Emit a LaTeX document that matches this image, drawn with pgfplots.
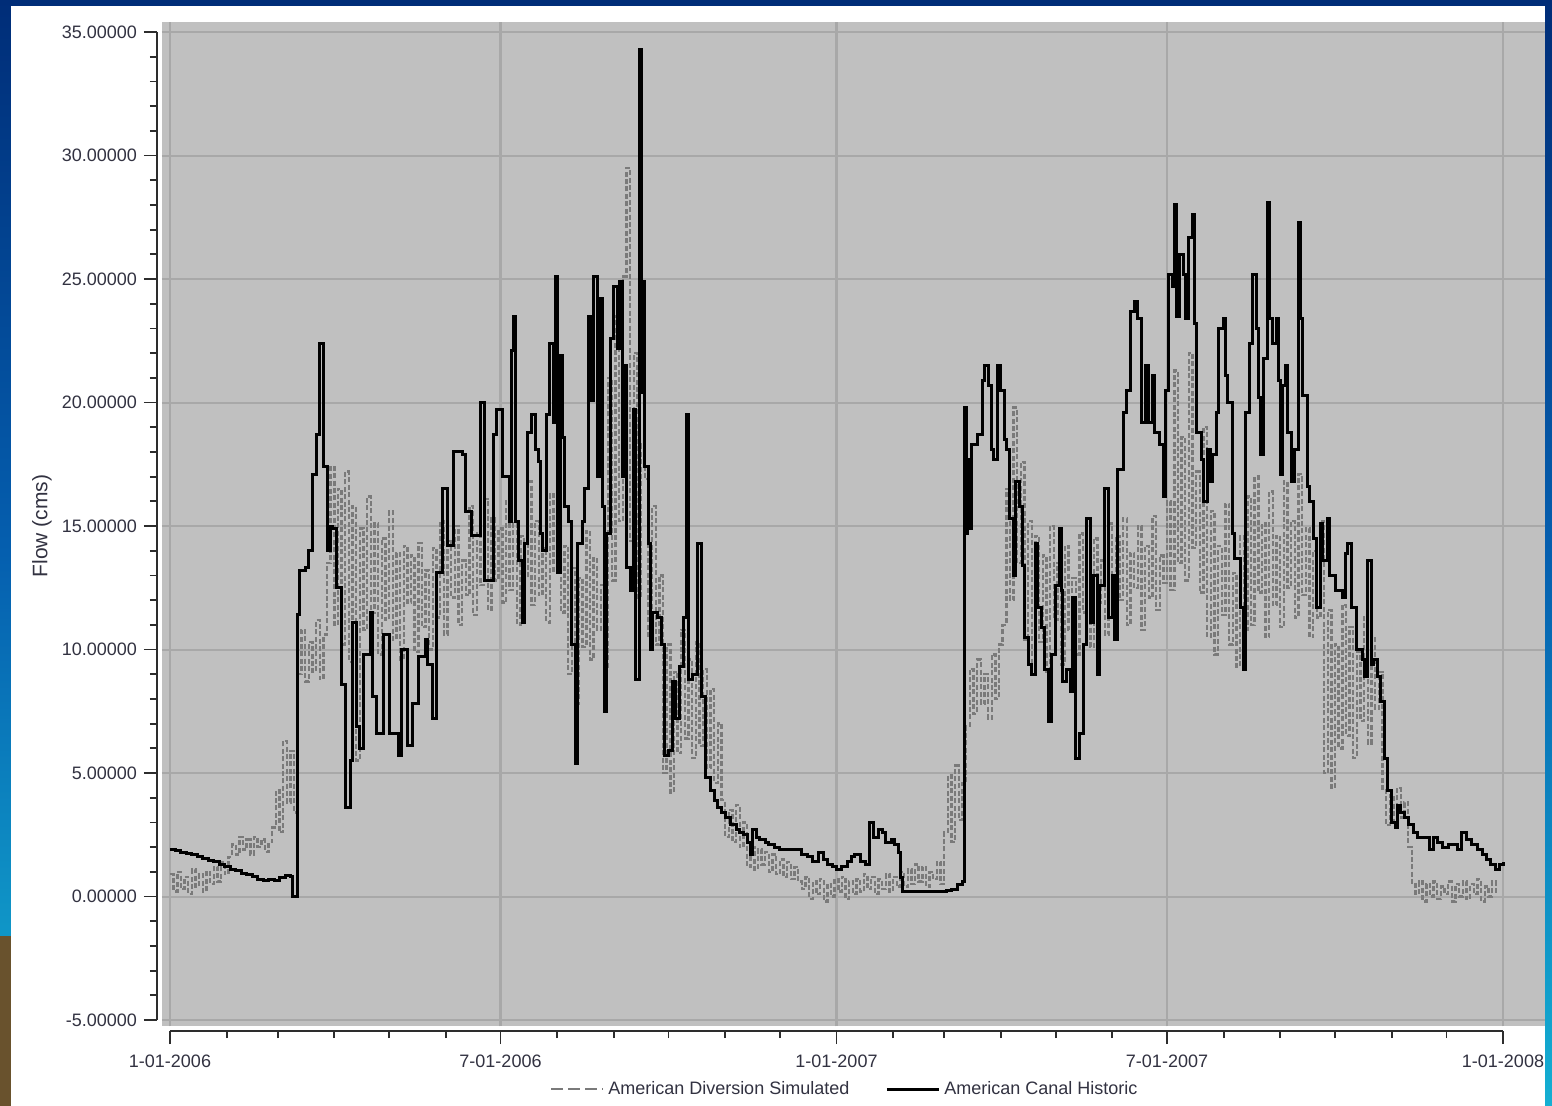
\documentclass[border=0pt]{standalone}
\usepackage{pgfplots}
\pgfplotsset{compat=1.18}
\usepackage{fontspec}
\setmainfont{Liberation Sans}
\definecolor{plotbg}{RGB}{192,192,192}
\definecolor{gridc}{RGB}{168,168,168}
\definecolor{simgray}{RGB}{122,122,122}
\definecolor{txt}{RGB}{50,50,65}
\definecolor{axc}{RGB}{45,45,45}
\definecolor{navy}{RGB}{0,45,120}
\definecolor{midb}{RGB}{5,95,175}
\definecolor{cyanb}{RGB}{20,175,210}
\definecolor{brownb}{RGB}{105,82,45}
\begin{document}
\begin{tikzpicture}
\useasboundingbox (0pt,0pt) rectangle (776pt,-553pt);
\shade[top color=navy, bottom color=cyanb, middle color=midb] (0pt,0pt) rectangle (776pt,-553pt);
\fill[brownb] (0pt,-468pt) rectangle (6pt,-553pt);
\fill[white] (5.5pt,-3pt) rectangle (772.5pt,-553pt);
\begin{axis}[
  scale only axis, width=666.5pt, height=494pt,
  at={(85pt,-510pt)}, anchor=south west,
  xmin=0, xmax=730, ymin=-5, ymax=35,
  clip=false,
  axis x line*=bottom, axis y line*=left,
  axis x line shift=5.5pt, axis y line shift=6.5pt,
  axis line style={axc, line width=1pt},
  tick align=outside,
  major tick length=6.5pt, minor tick length=3.5pt,
  every tick/.style={axc, line width=0.9pt},
  xtick={0,181,365,546,730},
  xticklabels={1-01-2006,7-01-2006,1-01-2007,7-01-2007,1-01-2008},
  minor xtick={31,59,90,120,151,212,243,273,304,334,396,424,455,485,516,577,608,638,669,699},
  ytick={-5,0,5,10,15,20,25,30,35},
  yticklabels={-5.00000,0.00000,5.00000,10.00000,15.00000,20.00000,25.00000,30.00000,35.00000},
  minor ytick={-4,-3,-2,-1,1,2,3,4,6,7,8,9,11,12,13,14,16,17,18,19,21,22,23,24,26,27,28,29,31,32,33,34},
  ticklabel style={font=\fontsize{9}{10}\selectfont, text=txt},
  xticklabel shift=2pt,
  ylabel={Flow (cms)},
  every axis y label/.style={at={(rel axis cs:-0.096,0.5)}, rotate=90, anchor=center, font=\fontsize{10.5}{12}\selectfont, text=txt},
  legend columns=2,
  legend style={at={(rel axis cs:0.507,-0.07)}, anchor=center, draw=none, fill=none,
    font=\fontsize{9}{10}\selectfont, text=txt,
    /tikz/every even column/.append style={column sep=16pt}},
  legend image code/.code={\draw[#1] (0pt,0pt) -- (26pt,0pt);},
]
\fill[plotbg] (axis cs:-4.4,-5.26) rectangle (axis cs:753,35.4);
\pgfplotsinvokeforeach{-5,0,5,10,15,20,25,30,35}{\draw[gridc, line width=1pt] (axis cs:-4.4,#1) -- (axis cs:753,#1);}
\pgfplotsinvokeforeach{0,181,365,546,730}{\draw[gridc, line width=1.2pt] (axis cs:#1,-5.26) -- (axis cs:#1,35.4);}

\addplot[const plot, simgray, line width=1.2pt, dash pattern=on 2.5pt off 1.2pt,
  legend image code/.code={\draw[simgray, line width=1pt, dash pattern=on 6pt off 2.5pt] (0pt,0pt) -- (26pt,0pt);}] coordinates {
(0,0.9)(2,0.2)(4,1.0)(6,0.3)(8,0.8)(10,0.1)(12,1.1)(14,0.4)(16,0.9)(18,0.2)(20,1.0)(22,0.5)(24,1.2)(26,0.6)
(28,1.4)(30,0.9)(32,1.6)
(34,2.1)(36,1.7)(38,2.4)(40,1.9)(42,2.3)(44,1.7)(46,2.4)(48,2.0)(50,2.3)(52,1.8)(54,2.2)
(56,2.8)(58,4.3)(60,2.6)
(62,6.3)(64,3.8)(66,5.9)(68,3.4)
(70,9.0)(72,10.8)(74,8.7)(76,10.3)(78,9.1)(80,11.2)(82,8.8)(84,10.6)
(86,13.5)(88,17.4)(90,11.0)(92,16.5)(94,10.2)(96,17.2)
(98,9.5)(100,15.8)(102,5.5)(104,14.9)(106,10.8)(108,16.2)(110,11.5)(112,15.1)(114,9.8)(116,14.5)(118,11.2)(120,15.6)(122,10.4)(124,13.9)(126,9.6)(128,14.2)(130,11.9)(132,13.8)(134,9.9)(136,14.3)(138,10.9)(140,13.2)(142,10.0)(144,14.1)
(146,11.3)(148,15.2)(150,10.6)(152,14.4)(154,12.1)(156,15.0)(158,11.0)(160,13.6)(162,12.2)(164,15.8)(166,11.4)(168,14.7)(170,12.6)(172,16.1)(174,11.6)(176,15.3)(178,12.8)(180,14.9)
(182,11.9)(184,16.0)(186,12.4)(188,15.1)(190,11.0)(192,14.6)(194,12.9)(196,16.8)(198,11.8)(200,15.2)(202,12.2)(204,14.1)(206,11.1)(208,16.3)(210,13.2)(212,14.8)(214,11.5)
(216,14.2)(218,9.0)(220,13.3)(222,7.8)(224,12.9)(226,10.1)(228,14.8)(230,9.6)(232,13.7)(234,10.8)(236,12.6)
(238,9.3)(240,21.0)(242,12.8)(244,23.5)(246,15.2)(248,25.1)(250,29.5)(252,14.4)(254,22.0)(256,12.1)(258,18.3)
(260,16.9)(262,10.5)(264,15.8)(266,10.2)(268,13.0)
(270,5.0)(272,10.2)(274,4.2)(276,9.1)(278,5.8)(280,10.8)(282,6.4)(284,9.6)
(286,5.6)(288,10.3)(290,6.1)(292,9.2)(294,5.2)(296,8.4)(298,4.6)(300,7.0)
(302,3.9)(304,2.4)(306,3.5)(308,2.2)(310,3.7)(312,2.0)(314,3.0)
(316,1.2)(318,2.0)(320,1.1)(322,1.9)(324,1.3)(326,1.8)(328,1.0)(330,1.7)(332,0.9)(334,1.5)(336,0.8)(338,1.4)(340,0.7)(342,1.2)(344,0.6)
(346,0.3)(348,0.8)(350,-0.1)(352,0.6)(354,0.1)(356,0.7)(358,-0.2)(360,0.5)(362,0.0)(364,0.7)(366,0.2)(368,0.8)(370,-0.1)(372,0.6)(374,0.1)(376,0.7)(378,0.2)(380,0.9)(382,0.3)(384,0.8)(386,0.1)(388,0.7)(390,0.3)(392,0.9)(394,0.2)(396,0.8)(398,0.4)(400,1.0)
(402,0.4)(404,1.1)(406,0.5)(408,1.3)(410,0.6)(412,1.2)(414,0.4)(416,1.0)(418,0.7)(420,1.4)(422,0.5)
(424,2.6)(426,4.9)(428,2.2)(430,5.3)(432,3.1)(434,4.6)
(436,6.9)(438,9.2)(440,7.4)(442,9.6)(444,7.8)(446,9.0)(448,7.2)(450,9.8)(452,8.0)(454,10.2)
(456,11.0)(458,16.5)(460,12.0)(462,19.8)(464,13.5)(466,17.6)(468,10.4)(470,15.2)
(472,9.0)(474,14.6)(476,10.3)(478,13.8)(480,9.1)(482,15.0)(484,11.2)(486,13.5)(488,9.4)(490,14.2)(492,10.8)(494,12.9)(496,9.8)(498,14.7)(500,11.5)(502,13.3)(504,10.1)(506,14.5)(508,11.9)(510,13.6)(512,10.6)(514,15.1)
(516,11.3)(518,14.6)(520,12.0)(522,15.3)(524,11.0)(526,13.9)(528,12.5)(530,15.0)(532,10.8)(534,14.2)(536,12.1)(538,15.4)(540,11.6)(542,13.8)(544,12.7)
(546,16.0)(548,12.4)(550,21.3)(552,13.5)(554,18.6)(556,12.8)(558,22.0)(560,14.1)(562,17.2)(564,12.3)(566,19.0)
(568,10.5)(570,15.6)(572,9.8)(574,14.2)(576,11.4)(578,15.9)(580,10.2)(582,13.1)(584,9.3)(586,14.6)(588,10.8)
(590,16.2)(592,11.0)(594,17.0)(596,12.3)(598,15.1)(600,10.5)(602,16.4)(604,11.8)(606,14.6)(608,10.9)(610,16.8)(612,12.5)(614,15.2)(616,11.3)(618,17.1)
(620,12.2)(622,14.9)(624,10.5)(626,14.0)(628,11.3)(630,15.2)
(632,5.0)(634,11.6)(636,4.4)(638,10.2)(640,6.0)(642,11.8)
(644,6.5)(646,10.9)(648,5.6)(650,9.9)(652,7.1)(654,11.4)(656,6.2)(658,10.5)(660,7.6)(662,9.1)
(664,4.3)(666,2.9)(668,4.1)(670,3.0)(672,4.4)(674,3.2)(676,3.8)
(678,2.0)(680,0.5)
(682,0.1)(684,0.6)(686,-0.2)(688,0.5)(690,0.0)(692,0.6)(694,-0.1)(696,0.4)(698,0.1)(700,0.6)(702,-0.2)(704,0.5)(706,0.0)(708,0.6)(710,-0.1)(712,0.5)(714,0.1)(716,0.7)(718,-0.2)(720,0.4)(722,0.0)(724,0.6)(726,0.1)
};
\addlegendentry{American Diversion Simulated}

\addplot[const plot, black, line width=1.5pt] coordinates {
(0,1.9)(3,1.85)(6,1.8)(9,1.75)(12,1.7)(15,1.6)(18,1.55)(21,1.45)(24,1.4)(27,1.3)(30,1.2)(33,1.1)(36,1.05)(39,0.95)(42,0.9)(45,0.8)(48,0.7)(51,0.65)(54,0.7)(57,0.65)(60,0.75)(63,0.85)(66,0.8)(67,0.0)(69,0.0)
(70,11.4)(71,13.2)(74,13.3)(76,14.0)(78,17.1)(80,18.7)(82,22.4)(84,17.4)(86,14.0)(88,15.0)(89,14.9)(91,12.5)(94,8.6)(96,3.6)(99,5.5)(100,11.1)(102,6.9)(104,6.0)(106,9.8)(110,11.5)(111,8.1)(113,6.6)(117,10.6)(120,6.6)(125,5.7)(127,10.0)(130,6.1)(133,7.8)(136,9.7)(140,10.4)(141,9.4)(144,7.2)(146,13.1)(149,16.5)(152,14.2)(155,18.0)(160,17.9)(162,15.6)(165,14.6)(170,20.0)(172,12.8)(177,18.7)(179,19.7)
(182,17.0)(185,17.0)(186,15.2)(187,22.1)(188,23.5)(189,15.2)(191,13.6)(193,11.1)(194,14.3)(196,18.8)(198,19.5)(200,18.1)(202,17.6)(203,14.7)(204,14.0)(206,19.5)(208,22.4)(210,19.2)(211,25.1)(212,13.1)(214,21.9)(215,18.6)(216,15.8)(218,15.2)(220,10.2)(222,5.4)(223,14.3)(226,15.2)(227,16.5)(229,23.5)(231,20.1)(232,25.1)(234,17.0)(235,24.2)(237,15.8)(238,7.5)(239,14.7)(241,22.6)(243,24.7)(245,22.2)(246,24.9)(248,17.0)(249,21.5)(250,13.3)(252,12.4)(254,19.7)(255,8.8)(257,34.3)(258,20.4)(259,24.9)(260,17.4)(262,14.3)(263,10.0)(264,11.5)(267,11.3)(269,10.2)(271,5.7)(273,5.9)(275,8.7)(277,7.2)(279,9.3)(281,11.3)(283,19.5)(284,8.8)(286,9.0)(289,14.3)(291,8.1)
(293,4.8)(296,4.3)(298,3.9)(300,3.6)(302,3.4)(304,3.2)(307,2.9)(310,2.7)(312,2.6)(314,2.5)(316,2.2)(318,1.7)(319,2.7)(321,2.4)(323,2.3)(326,2.2)(328,2.1)(331,2.0)(334,1.9)(337,1.9)(340,1.9)(343,1.9)(346,1.7)(349,1.6)(352,1.4)(355,1.8)(358,1.5)(360,1.3)(363,1.2)
(365,1.1)(368,1.2)(371,1.4)(373,1.6)(375,1.7)(378,1.4)(381,1.3)(383,3.0)(385,2.4)(388,2.7)(390,2.6)(392,2.2)(395,2.3)(397,2.1)(399,1.8)(400,0.75)(401,0.2)(410,0.2)(422,0.2)(425,0.25)(428,0.3)(431,0.5)(434,0.6)
(435,19.8)(436,14.7)(437,17.7)(438,14.9)(439,18.3)(442,18.7)(445,20.9)(446,21.5)(448,20.7)(450,18.1)(451,17.7)(453,21.5)(455,20.5)(457,18.5)(458,18.1)(460,15.3)(462,13.0)(463,16.8)(465,15.8)(467,13.4)(468,10.5)(470,9.4)(472,9.0)(474,14.3)(475,11.7)(477,10.9)(479,9.2)(481,7.1)(483,9.8)(485,12.6)(487,14.9)(488,12.4)(489,8.7)(491,9.2)(493,8.3)(494,12.1)(496,5.6)(498,6.6)(500,10.2)(502,15.3)(504,11.1)(506,13.0)(508,9.0)(509,12.6)(512,16.5)(514,11.3)(516,13.0)(517,10.4)(519,17.3)(522,19.6)(524,20.5)(526,23.7)(528,24.1)(530,23.4)(532,19.2)(534,21.5)(536,19.2)(538,21.1)(539,18.8)(542,18.3)(544,16.2)
(545,20.5)(547,25.2)(549,24.7)(550,28.0)(551,23.5)(553,26.0)(555,25.2)(556,23.4)(558,26.7)(560,27.6)(561,23.2)(562,18.8)(565,17.7)(566,16.0)(568,18.1)(570,16.8)(571,17.9)(573,19.6)(574,23.0)(577,23.4)(578,21.1)(579,20.0)(582,14.7)(583,13.7)(586,11.7)(588,9.2)(589,19.6)(591,22.4)(593,25.2)(595,23.0)(596,20.2)(597,17.9)(599,21.8)(601,28.1)(602,23.4)(604,22.4)(606,23.4)(607,20.9)(608,17.1)(609,20.7)(611,21.5)(612,18.8)(614,16.8)(616,18.1)(618,27.3)(619,23.4)(620,20.3)(623,16.6)(624,16.0)(626,14.5)(628,11.7)(630,15.1)(631,13.6)(634,15.3)(635,13.0)(638,12.4)(641,12.4)(642,12.1)(644,13.9)(645,14.3)(647,11.7)(650,10.0)(653,9.6)(654,8.9)(656,13.6)(658,9.4)(659,9.6)(661,8.9)
(663,7.9)(665,5.6)(667,4.3)(669,3.0)(671,2.8)(672,3.7)(674,3.4)(676,3.2)(678,2.9)(681,2.6)(683,2.4)(685,2.4)(688,2.4)(690,1.9)(692,2.4)(694,2.2)(697,2.0)(700,2.1)(703,2.1)(705,1.9)(707,2.6)(710,2.3)(713,2.1)(716,1.9)(719,1.7)(721,1.5)(723,1.3)(726,1.1)(728,1.3)(730,1.4)
};
\addlegendentry{American Canal Historic}
\end{axis}
\end{tikzpicture}
\end{document}
